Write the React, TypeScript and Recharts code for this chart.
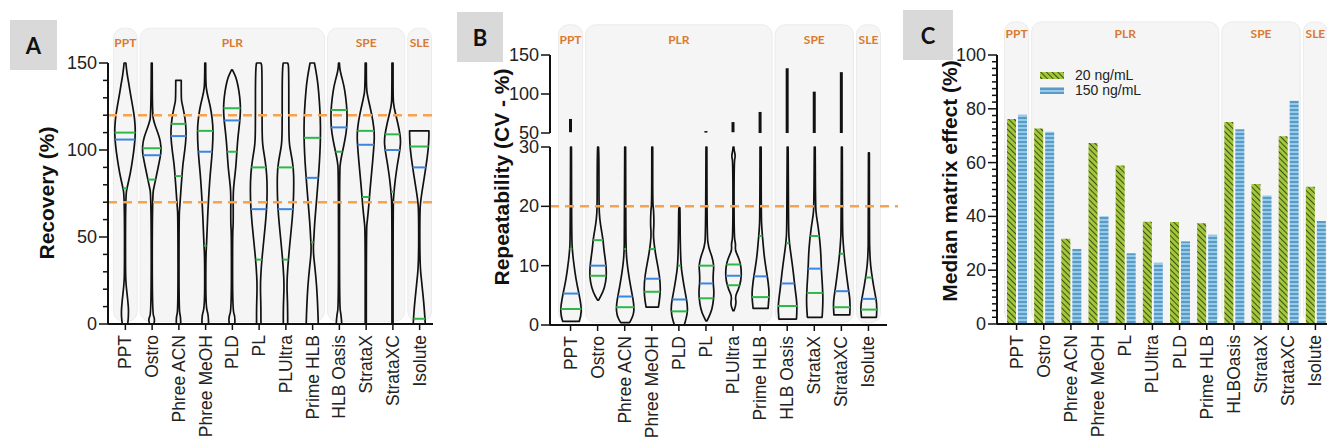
import React from 'react'
import {
  ComposedChart, BarChart, Bar, XAxis, YAxis, ReferenceArea, ReferenceLine, Legend,
} from 'recharts'

// ---------- data ----------
const methods = ['PPT', 'Ostro', 'Phree ACN', 'Phree MeOH', 'PLD', 'PL', 'PLUltra', 'Prime HLB', 'HLB Oasis', 'StrataX', 'StrataXC', 'Isolute']

// Panel A – recovery (%): violin outline as [value, relative width]
const recoveryShapes: [number, number][][] = [
  [[0, 0.25], [6, 0.35], [14, 0.25], [22, 0.1], [30, 0.04], [74, 0.05], [80, 0.25], [87, 0.5], [95, 0.7], [102, 0.85], [110, 0.95], [118, 0.88], [125, 0.7], [132, 0.5], [138, 0.35], [144, 0.18], [150, 0.08]],
  [[0, 0.2], [3, 0.3], [6, 0.04], [74, 0.05], [80, 0.25], [86, 0.45], [93, 0.68], [99, 0.86], [105, 0.8], [110, 0.55], [115, 0.25], [120, 0.06], [150, 0.04]],
  [[0, 0.2], [4, 0.2], [8, 0.04], [62, 0.05], [68, 0.12], [75, 0.2], [84, 0.3], [92, 0.4], [100, 0.58], [108, 0.7], [115, 0.66], [121, 0.52], [126, 0.35], [129, 0.25], [140, 0.25]],
  [[0, 0.3], [5, 0.3], [10, 0.05], [38, 0.05], [46, 0.12], [56, 0.18], [66, 0.25], [77, 0.35], [86, 0.45], [96, 0.6], [106, 0.7], [114, 0.7], [122, 0.55], [128, 0.35], [133, 0.15], [138, 0.05], [150, 0.03]],
  [[0, 0.25], [4, 0.3], [8, 0.05], [52, 0.05], [58, 0.12], [75, 0.1], [82, 0.2], [90, 0.35], [100, 0.45], [108, 0.55], [116, 0.7], [123, 0.78], [130, 0.72], [137, 0.55], [142, 0.35], [145, 0.12], [146, 0.02]],
  [[0, 0.2], [10, 0.2], [22, 0.14], [33, 0.23], [42, 0.36], [52, 0.52], [62, 0.67], [72, 0.76], [82, 0.76], [90, 0.67], [98, 0.48], [104, 0.33], [115, 0.3], [148, 0.3], [150, 0.2]],
  [[0, 0.2], [10, 0.2], [22, 0.12], [32, 0.2], [44, 0.36], [56, 0.55], [67, 0.7], [80, 0.76], [90, 0.72], [98, 0.5], [104, 0.33], [115, 0.3], [148, 0.3], [150, 0.2]],
  [[0, 0.55], [10, 0.5], [22, 0.4], [32, 0.25], [42, 0.08], [50, 0.15], [58, 0.22], [68, 0.35], [78, 0.48], [88, 0.6], [98, 0.7], [108, 0.75], [118, 0.74], [128, 0.65], [138, 0.52], [145, 0.35], [150, 0.2]],
  [[0, 0.25], [5, 0.2], [10, 0.04], [88, 0.05], [94, 0.15], [100, 0.35], [106, 0.55], [113, 0.72], [122, 0.74], [130, 0.62], [137, 0.45], [143, 0.2], [147, 0.06], [150, 0.03]],
  [[0, 0.05], [54, 0.05], [60, 0.15], [68, 0.28], [78, 0.4], [88, 0.55], [100, 0.72], [109, 0.8], [117, 0.65], [124, 0.42], [130, 0.2], [135, 0.06], [150, 0.05]],
  [[0, 0.05], [68, 0.05], [75, 0.12], [83, 0.25], [92, 0.45], [100, 0.68], [106, 0.75], [112, 0.6], [119, 0.35], [125, 0.12], [130, 0.05], [150, 0.05]],
  [[0, 0.55], [10, 0.45], [22, 0.25], [35, 0.05], [65, 0.05], [72, 0.15], [80, 0.35], [90, 0.6], [100, 0.82], [108, 0.88], [111, 0.88]],
]
const recoveryQ1 = [78, 83, 85, 45, 99, 37, 37, 47, 99, 73, 76, 3]
const recoveryMedian = [106, 97, 108, 99, 117, 66, 66, 84, 113, 103, 100, 90]
const recoveryQ3 = [110, 101, 115, 111, 124, 90, 90, 107, 123, 111, 109, 102]

// Panel B – repeatability (CV %), lower 0–30 segment
const cvShapes: [number, number][][] = [
  [[0.6, 0.75], [1.5, 0.9], [3, 0.95], [5.5, 0.7], [7.7, 0.45], [10, 0.28], [12, 0.15], [14.5, 0.06], [30, 0.03]],
  [[4.2, 0.05], [5.5, 0.45], [7.2, 0.7], [8.8, 0.76], [10.5, 0.7], [12.8, 0.52], [14.4, 0.45], [16, 0.3], [17.8, 0.15], [20, 0.08], [28, 0.08], [30, 0.03]],
  [[0.4, 0.4], [1.5, 0.75], [3.2, 0.82], [5.5, 0.6], [7.7, 0.38], [10, 0.2], [12, 0.1], [15, 0.06], [30, 0.03]],
  [[3, 0.56], [5, 0.73], [7.2, 0.73], [9.4, 0.56], [11.6, 0.33], [13.9, 0.15], [15.5, 0.1], [17, 0.16], [19.5, 0.12], [20.5, 0.04], [30, 0.03]],
  [[0, 0.45], [1.5, 0.7], [3.2, 0.76], [5.5, 0.53], [7.7, 0.32], [10, 0.15], [14, 0.08], [19.5, 0.06], [19.8, 0.02]],
  [[0.7, 0.05], [2, 0.4], [3.5, 0.6], [5.5, 0.7], [7.2, 0.6], [8.8, 0.62], [10, 0.68], [11.6, 0.5], [13, 0.2], [15, 0.06], [30, 0.03]],
  [[2.4, 0.05], [3.5, 0.27], [4.8, 0.15], [6, 0.45], [7.5, 0.68], [9, 0.72], [10.5, 0.62], [11.6, 0.4], [12.6, 0.15], [13.7, 0.2], [14.8, 0.05], [27.5, 0.05], [28.5, 0.18], [29.5, 0.05], [30, 0.03]],
  [[2.8, 0.68], [5, 0.8], [7.2, 0.7], [9.4, 0.5], [11.6, 0.33], [13.9, 0.22], [16, 0.12], [18.4, 0.06], [30, 0.05]],
  [[1, 0.8], [3.2, 0.88], [6, 0.68], [8.8, 0.52], [11.6, 0.32], [13.9, 0.15], [16, 0.08], [25, 0.06], [30, 0.03]],
  [[1.3, 0.67], [3.8, 0.76], [6.6, 0.7], [9.4, 0.6], [12.2, 0.55], [14.4, 0.45], [16.7, 0.3], [18.4, 0.15], [20, 0.07], [30, 0.03]],
  [[1.7, 0.72], [3.8, 0.78], [6, 0.6], [8.8, 0.4], [11.6, 0.22], [13.9, 0.12], [16, 0.06], [30, 0.03]],
  [[1.3, 0.68], [3.2, 0.76], [5.5, 0.53], [7.7, 0.32], [10, 0.15], [12.2, 0.08], [14.5, 0.05], [29, 0.03]],
]
const cvQ1 = [2.7, 8.3, 3, 5.6, 2.3, 4.5, 6.7, 4.7, 3.2, 5.4, 3, 2.6]
const cvMedian = [5.3, 10, 4.8, 7.8, 4.3, 7, 8.3, 8.2, 7, 9.5, 5.7, 4.4]
const cvQ3 = [12.8, 14.3, 12.8, 12.8, 10, 10, 10.2, 15, 13.8, 15, 12, 8]
// upper 50–150 segment: outlier tails
const cvTails: ([number, number] | undefined)[] = [
  [51, 68], undefined, undefined, undefined, undefined, [50.5, 52.5],
  [51, 64], [50, 77], [50, 133], [50, 103], [50, 128], undefined,
]

// Panel C – median matrix effect (%)
const matrixMethods = ['PPT', 'Ostro', 'Phree ACN', 'Phree MeOH', 'PL', 'PLUltra', 'PLD', 'Prime HLB', 'HLBOasis', 'StrataX', 'StrataXC', 'Isolute']
const matrix20 = [76.2, 72.7, 31.7, 67.3, 58.9, 38.0, 37.9, 37.5, 75.1, 52.0, 69.8, 51.0]
const matrix150 = [77.8, 71.5, 27.9, 40.1, 26.3, 22.8, 30.7, 33.2, 72.4, 47.8, 83.0, 38.3]

// sample-prep groups
const groupNames = ['PPT', 'PLR', 'SPE', 'SLE']
const groupSpans = [['PPT', 'PPT'], ['Ostro', 'Prime HLB'], ['HLB Oasis', 'StrataXC'], ['Isolute', 'Isolute']]
const matrixGroupSpans = [['PPT', 'PPT'], ['Ostro', 'Prime HLB'], ['HLBOasis', 'StrataXC'], ['Isolute', 'Isolute']]

// ---------- styling ----------
const FONT = '"Liberation Sans", Arial, sans-serif'
const ORANGE = '#DA7A30'
const DASH = '#F5A34F'
const GREEN = '#2fb84a'
const BLUE = '#3d86e0'

const recoveryData = methods.map((m, i) => ({
  method: m,
  range: [recoveryShapes[i][0][0], recoveryShapes[i][recoveryShapes[i].length - 1][0]],
  shape: recoveryShapes[i],
  q1: recoveryQ1[i], med: recoveryMedian[i], q3: recoveryQ3[i],
}))
const cvData = methods.map((m, i) => ({
  method: m,
  range: [cvShapes[i][0][0], cvShapes[i][cvShapes[i].length - 1][0]],
  shape: cvShapes[i],
  q1: cvQ1[i], med: cvMedian[i], q3: cvQ3[i],
  tail: cvTails[i],
}))
const matrixData = matrixMethods.map((m, i) => ({ method: m, low: matrix20[i], high: matrix150[i] }))

function widthAt(shape: [number, number][], v: number) {
  if (v <= shape[0][0]) return shape[0][1]
  for (let i = 1; i < shape.length; i++) {
    if (v <= shape[i][0]) {
      const [v0, w0] = shape[i - 1]
      const [v1, w1] = shape[i]
      return w0 + (w1 - w0) * (v - v0) / (v1 - v0)
    }
  }
  return shape[shape.length - 1][1]
}

function smooth(pts: number[][]) {
  let d = `L${pts[0][0]},${pts[0][1]}`
  for (let i = 1; i < pts.length - 1; i++) {
    const mx = (pts[i][0] + pts[i + 1][0]) / 2
    const my = (pts[i][1] + pts[i + 1][1]) / 2
    d += `Q${pts[i][0]},${pts[i][1]} ${mx},${my}`
  }
  const last = pts[pts.length - 1]
  return d + `L${last[0]},${last[1]}`
}

const Violin = (props: any) => {
  const { x, y, width, height, payload } = props
  if (x == null || !payload || !payload.shape) return null
  const [lo, hi] = payload.range
  const top = Math.min(y, y + height)
  const bottom = Math.max(y, y + height)
  const toY = (v: number) => bottom - (v - lo) / (hi - lo) * (bottom - top)
  const cx = x + width / 2
  const half = width / 2
  const right = payload.shape.map(([v, w]: number[]) => [cx + Math.max(w, 0.04) * half, toY(v)])
  const left = payload.shape.map(([v, w]: number[]) => [cx - Math.max(w, 0.04) * half, toY(v)]).reverse()
  const d = `M${right[0][0]},${right[0][1]}` + smooth(right) + smooth(left) + 'Z'
  const marks: [string, string][] = [['q1', GREEN], ['q3', GREEN], ['med', BLUE]]
  return (
    <g>
      <path d={d} fill="none" stroke="#111" strokeWidth={1.7} strokeLinejoin="round" />
      {marks.map(([k, c]) => {
        const v = payload[k]
        const w = widthAt(payload.shape, v) * half
        return <line key={k} x1={cx - w} x2={cx + w} y1={toY(v)} y2={toY(v)} stroke={c} strokeWidth={2} />
      })}
    </g>
  )
}

const GroupBox = (p: any) => (
  <rect x={p.x + 1.5} y={p.y} width={Math.max(p.width - 3, 0)} height={p.height} rx={10}
    fill="#f5f5f5" stroke="#ebebeb" strokeWidth={1} />
)

// dashed limit line that runs a little past the end of the x axis
const LongDash = (p: any) => (
  <line x1={p.x1} x2={p.x2 + 11} y1={p.y1} y2={p.y2} stroke={DASH} strokeWidth={2.5} strokeDasharray="9 6" />
)

const makeYTick = (majors: number[]) => (props: any) => {
  const { x, y, payload } = props
  const major = majors.includes(payload.value)
  return (
    <g>
      <line x1={x} x2={x - (major ? 9 : 5)} y1={y} y2={y} stroke="#111" strokeWidth={1.5} />
      {major && (
        <text x={x - 11} y={y} textAnchor="end" dominantBaseline="central" fontSize={18}
          fontFamily={FONT} fill="#222">{payload.value}</text>
      )}
    </g>
  )
}

const XTick = (props: any) => {
  const { x, y, payload } = props
  const ty = y + 11
  return (
    <g>
      <line x1={x} x2={x} y1={y} y2={y + 6} stroke="#111" strokeWidth={1.5} />
      <text x={x} y={ty} transform={`rotate(-90 ${x} ${ty})`} textAnchor="end" dominantBaseline="central"
        fontSize={17.5} fontFamily={FONT} fill="#222">{payload.value}</text>
    </g>
  )
}

const groupLabel = (name: string, offset: number) => ({
  value: name, position: 'insideTop' as const, offset,
  fill: ORANGE, fontSize: 12, fontWeight: 700, fontFamily: 'Lato, "Open Sans", sans-serif',
})

const axisLine = { stroke: '#111', strokeWidth: 2 }

function PanelBox({ letter, left, top, w }: { letter: string, left: number, top: number, w: number }) {
  return (
    <div style={{
      position: 'absolute', left, top, width: w, height: 50, background: '#d9d9d9',
      display: 'flex', alignItems: 'center', justifyContent: 'center',
      font: '700 22px Lato, "Open Sans", sans-serif', color: '#111',
    }}>{letter}</div>
  )
}

function AxisTitle({ text, cx, cy }: { text: string, cx: number, cy: number }) {
  return (
    <div style={{
      position: 'absolute', left: cx, top: cy, transform: 'translate(-50%, -50%) rotate(-90deg)',
      whiteSpace: 'nowrap', font: `700 21px ${FONT}`, color: '#111',
    }}>{text}</div>
  )
}

const MatrixLegend = () => (
  <div style={{ fontFamily: FONT, fontSize: 14, color: '#222', lineHeight: '15px' }}>
    {[['url(#hatchGreen)', '20 ng/mL'], ['url(#stripeBlue)', '150 ng/mL']].map(([fill, label]) => (
      <div key={label} style={{ display: 'flex', alignItems: 'center' }}>
        <svg width={24} height={8} style={{ marginRight: 11 }}>
          <rect x={0} y={0} width={24} height={7} fill={fill} />
        </svg>
        <span>{label}</span>
      </div>
    ))}
  </div>
)

export default function App() {
  return (
    <div style={{
      position: 'absolute', left: 0, top: 0, width: 1327, height: 443, overflow: 'hidden',
      background: '#fff', fontFamily: FONT,
    }}>
      <svg width={0} height={0} style={{ position: 'absolute' }}>
        <defs>
          <pattern id="hatchGreen" width={4} height={4} patternUnits="userSpaceOnUse" patternTransform="rotate(-45)">
            <rect width={4} height={4} fill="#a2c63c" />
            <line x1={0} y1={0} x2={0} y2={4} stroke="#26320c" strokeWidth={1.6} />
          </pattern>
          <pattern id="stripeBlue" width={6} height={4} patternUnits="userSpaceOnUse">
            <rect width={6} height={4} fill="#93cbea" />
            <line x1={0} y1={2} x2={6} y2={2} stroke="#3f7fae" strokeWidth={1.3} />
          </pattern>
        </defs>
      </svg>

      {/* Panel A */}
      <div style={{ position: 'absolute', left: 0, top: 0 }}>
        <ComposedChart width={445} height={443} data={recoveryData} margin={{ top: 63, right: 12, bottom: 0, left: 0 }}>
          {groupNames.map((g, i) => (
            <ReferenceArea key={g} x1={groupSpans[i][0]} x2={groupSpans[i][1]} y1={1.5} y2={170}
              ifOverflow="visible" shape={GroupBox} label={groupLabel(g, 10)} />
          ))}
          <XAxis dataKey="method" type="category" interval={0} height={119} padding={{ left: 4, right: 0 }}
            tickSize={0} tickMargin={0} tickLine={false} axisLine={axisLine} tick={XTick} />
          <YAxis type="number" domain={[0, 150]} width={108} interval={0}
            ticks={[0, 10, 20, 30, 40, 50, 60, 70, 80, 90, 100, 110, 120, 130, 140, 150]}
            tickSize={0} tickMargin={0} tickLine={false} axisLine={axisLine} tick={makeYTick([0, 50, 100, 150])} />
          <Bar dataKey="range" barSize={22} shape={Violin} isAnimationActive={false} />
          <ReferenceLine y={120} stroke={DASH} strokeWidth={2.5} strokeDasharray="9 6" />
          <ReferenceLine y={70} stroke={DASH} strokeWidth={2.5} strokeDasharray="9 6" />
        </ComposedChart>
      </div>
      <PanelBox letter="A" left={10} top={20} w={47} />
      <AxisTitle text="Recovery (%)" cx={47} cy={193} />

      {/* Panel B – lower segment */}
      <div style={{ position: 'absolute', left: 440, top: 0 }}>
        <ComposedChart width={460} height={443} data={cvData} margin={{ top: 147, right: 13, bottom: 0, left: 0 }}>
          {groupNames.map((g, i) => (
            <ReferenceArea key={g} x1={groupSpans[i][0]} x2={groupSpans[i][1]} y1={0.4} y2={50.6}
              ifOverflow="visible" shape={GroupBox} label={groupLabel(g, 11)} />
          ))}
          <XAxis dataKey="method" type="category" interval={0} height={118} padding={{ left: 7, right: 5 }}
            tickSize={0} tickMargin={0} tickLine={false} axisLine={axisLine} tick={XTick} />
          <YAxis type="number" domain={[0, 30]} width={110} interval={0} ticks={[0, 10, 20, 30]}
            tickSize={0} tickMargin={0} tickLine={false} axisLine={axisLine} tick={makeYTick([0, 10, 20, 30])} />
          <Bar dataKey="range" barSize={22} shape={Violin} isAnimationActive={false} />
          <ReferenceLine y={20} shape={LongDash} />
        </ComposedChart>
      </div>
      {/* Panel B – upper segment */}
      <div style={{ position: 'absolute', left: 440, top: 0 }}>
        <ComposedChart width={460} height={145} data={cvData} margin={{ top: 55, right: 13, bottom: 12, left: 0 }}>
          <XAxis dataKey="method" type="category" hide padding={{ left: 7, right: 5 }} />
          <YAxis type="number" domain={[50, 150]} width={110} interval={0} ticks={[50, 100, 150]}
            tickSize={0} tickMargin={0} tickLine={false} axisLine={axisLine} tick={makeYTick([50, 100, 150])} />
          <Bar dataKey="tail" barSize={3} fill="#111" isAnimationActive={false} />
        </ComposedChart>
      </div>
      <PanelBox letter="B" left={457} top={12} w={46} />
      <AxisTitle text="Repeatability (CV - %)" cx={502} cy={177} />

      {/* Panel C */}
      <div style={{ position: 'absolute', left: 900, top: 0 }}>
        <BarChart width={440} height={443} data={matrixData} margin={{ top: 55, right: 11, bottom: 0, left: 0 }}
          barGap={2}>
          {groupNames.map((g, i) => (
            <ReferenceArea key={g} x1={matrixGroupSpans[i][0]} x2={matrixGroupSpans[i][1]} y1={0.5} y2={112.3}
              ifOverflow="visible" shape={GroupBox} label={groupLabel(g, 8)} />
          ))}
          <XAxis dataKey="method" type="category" interval={0} height={119} padding={{ left: 6, right: 0 }}
            tickSize={0} tickMargin={0} tickLine={false} axisLine={axisLine} tick={XTick} />
          <YAxis type="number" domain={[0, 100]} width={97} interval={0}
            ticks={Array.from({ length: 41 }, (_, i) => i * 2.5)}
            tickSize={0} tickMargin={0} tickLine={false} axisLine={axisLine} tick={makeYTick([0, 20, 40, 60, 80, 100])} />
          <Legend layout="vertical" verticalAlign="middle" align="center" content={MatrixLegend}
            wrapperStyle={{ left: 140, top: 68, width: 120 }} />
          <Bar dataKey="low" name="20 ng/mL" barSize={9} fill="url(#hatchGreen)" isAnimationActive={false} />
          <Bar dataKey="high" name="150 ng/mL" barSize={9} fill="url(#stripeBlue)" isAnimationActive={false} />
        </BarChart>
      </div>
      <PanelBox letter="C" left={903} top={10} w={50} />
      <AxisTitle text="Median matrix effect (%)" cx={950} cy={181} />
    </div>
  )
}
